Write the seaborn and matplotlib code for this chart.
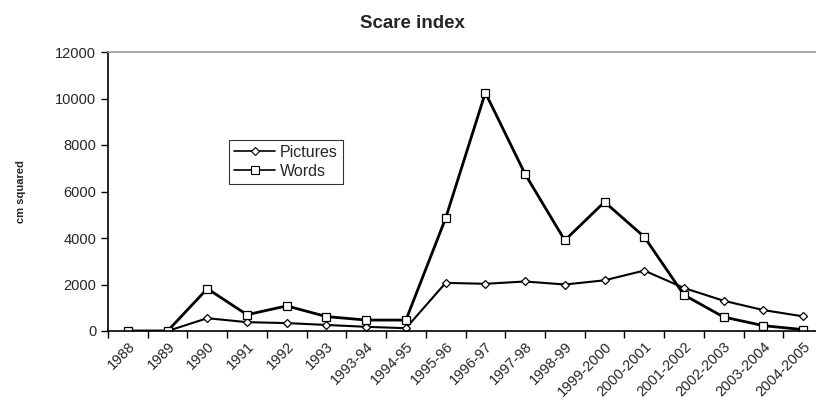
import matplotlib
matplotlib.use("Agg")
import matplotlib.pyplot as plt
import matplotlib.transforms as mtransforms
import pandas as pd
import seaborn as sns

# Data
periods = ["1988", "1989", "1990", "1991", "1992", "1993", "1993-94", "1994-95",
           "1995-96", "1996-97", "1997-98", "1998-99", "1999-2000", "2000-2001",
           "2001-2002", "2002-2003", "2003-2004", "2004-2005"]
pictures = [0, 0, 550, 380, 340, 260, 180, 120,
            2070, 2030, 2130, 2000, 2180, 2600, 1850, 1300, 900, 630]
words = [0, 0, 1820, 700, 1080, 620, 470, 470,
         4850, 10250, 6750, 3900, 5550, 4050, 1550, 600, 230, 60]

df = pd.DataFrame({"Period": periods * 2,
                   "Value": pictures + words,
                   "Series": ["Pictures"] * len(periods) + ["Words"] * len(periods)})
df["pos"] = df["Period"].map({p: i for i, p in enumerate(periods)})

sns.set_style("white")
plt.rcParams["font.family"] = ["Liberation Sans", "DejaVu Sans"]

fig = plt.figure(figsize=(8.16, 4.0), dpi=100)
ax = fig.add_axes([108 / 816, 1 - 331 / 400, (823 - 108) / 816, (331 - 52) / 400])

sns.lineplot(data=df, x="pos", y="Value", hue="Series", style="Series",
             palette={"Pictures": "black", "Words": "black"},
             markers={"Pictures": "D", "Words": "s"}, dashes=False,
             markerfacecolor="white", markeredgecolor="black",
             markeredgewidth=0.9, ax=ax, legend=False)
for line, lw, ms in zip(ax.lines, [1.5, 2.0], [4.2, 5.5]):
    line.set_linewidth(lw)
    line.set_markersize(ms)

ax.set_xlim(-0.5, len(periods) - 0.5)
ax.set_ylim(0, 12000)
ax.set_yticks(range(0, 12001, 2000))
ax.set_xticks(range(len(periods)))
ax.set_xticklabels(periods, rotation=45, ha="right", rotation_mode="anchor", fontsize=10.5)
shift = mtransforms.ScaledTranslation(-10 / 100, -6 / 100, fig.dpi_scale_trans)
for lbl in ax.get_xticklabels():
    lbl.set_transform(lbl.get_transform() + shift)
ax.set_xticks([i - 0.5 for i in range(len(periods) + 1)], minor=True)
ax.tick_params(axis="x", which="major", length=0, pad=6)
ax.tick_params(axis="x", which="minor", length=5, width=1, color="black", direction="out", bottom=True)
ax.tick_params(axis="y", length=5, width=1, color="black", direction="out", left=True, labelsize=10.5)
ax.set_xlabel("")
ax.set_ylabel("cm squared", fontsize=8, fontweight="bold", labelpad=21)

for s in ["left", "bottom"]:
    ax.spines[s].set_color("black")
    ax.spines[s].set_linewidth(1.2)
ax.spines["top"].set_color("#999999")
ax.spines["top"].set_linewidth(1.2)
ax.spines["right"].set_visible(False)

handles = [plt.Line2D([], [], color="black", lw=1.2, marker="D", ms=4.2,
                      mfc="white", mec="black", mew=0.8),
           plt.Line2D([], [], color="black", lw=1.2, marker="s", ms=5.2,
                      mfc="white", mec="black", mew=0.8)]
leg = ax.legend(handles, ["Pictures", "Words"], loc="upper left",
                bbox_to_anchor=((229 - 108) / (823 - 108), (331 - 140) / (331 - 52)),
                frameon=True, fancybox=False, fontsize=11.5, handlelength=2.6,
                handletextpad=0.3, borderpad=0.3, labelspacing=0.25, borderaxespad=0)
leg.get_frame().set_edgecolor("black")
leg.get_frame().set_linewidth(0.8)

fig.text(0.505, 1 - 24 / 400, "Scare index", ha="center", va="center",
         fontsize=13.5, fontweight="bold")

fig.savefig("out.png", dpi=100)
